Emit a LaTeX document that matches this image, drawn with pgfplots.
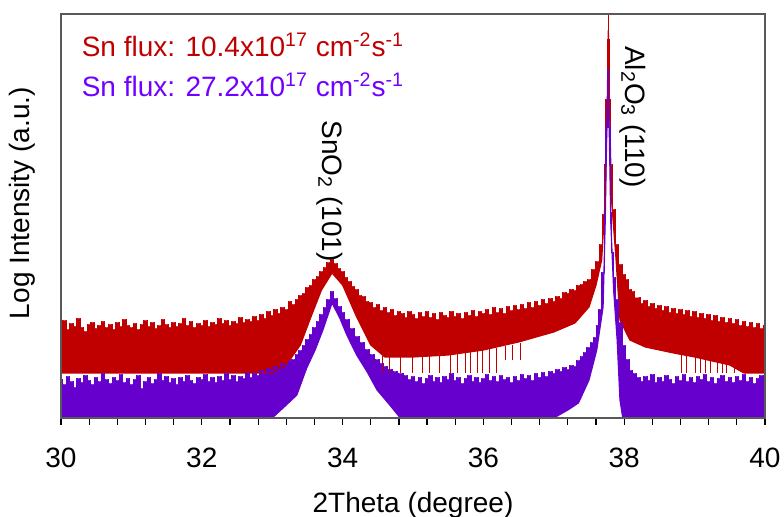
\documentclass[border=0pt]{standalone}
\usepackage{fontspec}
\setmainfont{Liberation Sans}
\usepackage{pgfplots}
\pgfplotsset{compat=1.18}
\usepgfplotslibrary{fillbetween}

\definecolor{cRed}{HTML}{C00000}
\definecolor{cPur}{HTML}{6600CC}
\definecolor{cPurTxt}{HTML}{7000FF}

% envelopes of the noisy scans (y in arbitrary log units, 0 = bottom of frame)
\pgfplotstableread{
x y
30.00 92
30.05 97
30.10 88
30.15 94
30.20 91
30.25 99
30.30 90
30.35 86
30.40 93
30.45 95
30.50 89
30.55 92
30.60 96
30.65 90
30.70 93
30.75 88
30.80 95
30.85 91
30.90 98
30.95 92
31.00 90
31.05 94
31.10 88
31.15 93
31.20 97
31.25 91
31.30 95
31.35 89
31.40 92
31.45 98
31.50 93
31.55 90
31.60 95
31.65 91
31.70 94
31.75 99
31.80 92
31.85 96
31.90 90
31.95 94
32.00 92
32.05 97
32.10 91
32.15 95
32.20 93
32.25 99
32.30 94
32.35 97
32.40 92
32.45 96
32.50 94
32.55 100
32.60 95
32.65 98
32.70 96
32.75 101
32.80 97
32.85 103
32.90 99
32.95 106
33.00 102
33.05 108
33.10 104
33.15 110
33.20 108
33.25 116
33.30 113
33.35 118
33.40 122
33.45 124
33.50 130
33.55 132
33.60 138
33.65 141
33.70 146
33.75 150
33.80 155
33.85 158
33.90 154
33.95 149
34.00 146
34.05 140
34.10 136
34.15 131
34.20 128
34.25 122
34.30 121
34.35 116
34.40 115
34.45 110
34.50 113
34.55 107
34.60 110
34.65 105
34.70 108
34.75 102
34.80 106
34.85 104
34.90 100
34.95 106
35.00 103
35.05 99
35.10 105
35.15 101
35.20 106
35.25 100
35.30 104
35.35 98
35.40 105
35.45 102
35.50 100
35.55 106
35.60 101
35.65 104
35.70 99
35.75 105
35.80 102
35.85 107
35.90 101
35.95 106
36.00 104
36.05 108
36.10 103
36.15 110
36.20 105
36.25 109
36.30 104
36.35 111
36.40 107
36.45 112
36.50 108
36.55 113
36.60 109
36.65 115
36.70 110
36.75 116
36.80 112
36.85 118
36.90 114
36.95 119
37.00 116
37.05 121
37.10 119
37.15 125
37.20 124
37.25 128
37.30 127
37.35 132
37.40 133
37.45 136
37.50 138
37.56 148
37.62 156
37.67 173
37.70 203
37.73 253
37.75 318
37.765 378
37.775 404
37.785 378
37.795 318
37.82 253
37.85 208
37.90 173
37.95 153
38.00 143
38.04 138
38.08 128
38.12 126
38.16 120
38.20 120
38.25 114
38.30 117
38.35 111
38.40 114
38.45 109
38.50 112
38.55 107
38.60 111
38.65 105
38.70 109
38.75 104
38.80 108
38.85 103
38.90 107
38.95 101
39.00 106
39.05 100
39.10 104
39.15 99
39.20 103
39.25 97
39.30 102
39.35 96
39.40 100
39.45 95
39.50 99
39.55 94
39.60 98
39.65 92
39.70 96
39.75 91
39.80 95
39.85 90
39.90 94
39.95 89
40.00 92
}\redtop

\pgfplotstableread{
x y
30.00 45
33.00 45
33.20 53
33.40 73
33.55 101
33.70 128
33.85 145
34.00 133
34.20 101
34.40 73
34.60 61
35.00 61
35.50 63
36.00 68
36.50 76
37.00 86
37.30 95
37.50 111
37.60 133
37.68 158
37.73 218
37.76 318
37.775 388
37.79 318
37.82 218
37.88 163
37.94 98
38.08 78
38.30 71
38.70 65
39.00 61
39.50 53
39.70 45
40.00 45
}\redbot

\pgfplotstableread{
x y
30.00 38
30.05 33
30.10 41
30.15 36
30.20 30
30.25 39
30.30 35
30.35 42
30.40 37
30.45 33
30.50 40
30.55 36
30.60 44
30.65 38
30.70 34
30.75 40
30.80 37
30.85 43
30.90 35
30.95 39
31.00 33
31.05 38
31.10 42
31.15 29
31.20 36
31.25 40
31.30 34
31.35 38
31.40 44
31.45 37
31.50 41
31.55 35
31.60 39
31.65 33
31.70 40
31.75 36
31.80 42
31.85 37
31.90 34
31.95 40
32.00 38
32.05 43
32.10 36
32.15 40
32.20 35
32.25 41
32.30 37
32.35 44
32.40 38
32.45 42
32.50 36
32.55 41
32.60 39
32.65 45
32.70 40
32.75 44
32.80 42
32.85 47
32.90 44
32.95 49
33.00 47
33.05 51
33.10 49
33.15 54
33.20 53
33.25 57
33.30 58
33.35 63
33.40 67
33.45 72
33.50 78
33.55 83
33.60 90
33.65 96
33.70 103
33.75 110
33.80 118
33.85 126
33.90 119
33.96 111
34.00 105
34.06 98
34.13 89
34.20 81
34.27 75
34.35 68
34.42 63
34.49 58
34.55 54
34.60 51
34.67 48
34.75 46
34.82 44
34.90 42
34.95 38
35.00 41
35.05 36
35.10 40
35.15 34
35.20 39
35.25 42
35.30 36
35.35 40
35.40 35
35.45 41
35.50 38
35.55 44
35.60 37
35.65 40
35.70 34
35.75 39
35.80 42
35.85 36
35.90 40
35.95 35
36.00 39
36.05 43
36.10 37
36.15 41
36.20 36
36.25 42
36.30 38
36.35 40
36.40 35
36.45 41
36.50 37
36.55 43
36.60 39
36.65 42
36.70 37
36.75 44
36.80 40
36.85 45
36.90 41
36.95 46
37.00 44
37.05 48
37.10 46
37.15 50
37.20 48
37.25 52
37.30 51
37.35 57
37.40 61
37.44 65
37.50 70
37.55 75
37.59 80
37.62 92
37.66 108
37.70 145
37.73 205
37.75 290
37.77 348
37.79 290
37.81 205
37.83 165
37.86 140
37.90 118
37.94 95
38.00 72
38.05 58
38.10 47
38.15 44
38.20 40
38.25 36
38.30 41
38.35 37
38.40 43
38.45 35
38.50 40
38.55 36
38.60 42
38.65 38
38.70 34
38.75 41
38.80 37
38.85 43
38.90 36
38.95 40
39.00 35
39.05 41
39.10 38
39.15 43
39.20 36
39.25 40
39.30 34
39.35 39
39.40 42
39.45 36
39.50 40
39.55 35
39.60 41
39.65 37
39.70 43
39.75 36
39.80 40
39.85 34
39.90 39
39.95 42
40.00 37
}\purtop

\pgfplotstableread{
x y
30.00 0
33.00 0
33.20 13
33.35 23
33.49 50
33.61 68
33.72 88
33.85 115
33.96 100
34.06 83
34.20 63
34.35 46
34.49 28
34.67 13
34.82 0
37.00 0
37.20 8
37.35 15
37.50 38
37.61 68
37.70 111
37.73 195
37.75 278
37.77 340
37.79 278
37.81 195
37.85 128
37.90 78
37.94 18
37.98 0
40.00 0
}\purbot

\begin{document}
\begin{tikzpicture}
\begin{axis}[
  at={(0,0)}, anchor=south west,
  scale only axis,
  width=352pt, height=202pt,
  xmin=30, xmax=40, ymin=0, ymax=404,
  xtick={30,32,...,40},
  minor x tick num=4,
  ytick=\empty,
  xtick pos=left,
  tick align=outside,
  xtick align=outside,
  major tick length=3.5pt,
  minor tick length=3.5pt,
  tick style={black, line width=0.6pt},
  axis line style={black!65, line width=0.6pt},
  axis on top,
  font=\fontsize{14}{16}\selectfont,
  /pgf/number format/assume math mode=true,
  xticklabel style={font=\fontsize{14}{16}\selectfont, yshift=-8pt},
  xlabel={2Theta (degree)},
  ylabel={Log Intensity (a.u.)},
  xlabel style={at={(axis description cs:0.5,0)}, anchor=center, yshift=-43.5pt},
  ylabel style={at={(axis description cs:0,0.532)}, anchor=center, yshift=19.5pt},
]
% Sn flux 10.4e17
\addplot[name path=rt, cRed, line width=0.5pt, const plot mark mid] table {\redtop};
\addplot[name path=rb, cRed, line width=0.6pt] table {\redbot};
\addplot[fill=cRed, draw=none] fill between[of=rt and rb];
\addplot[cRed, line width=0.5pt, unbounded coords=jump] coordinates {
(34.57,62) (34.57,45) (34.6,nan)
(34.67,62) (34.67,45) (34.7,nan)
(34.82,62) (34.82,45) (34.9,nan)
(34.99,62) (34.99,45) (35.0,nan)
(35.14,62) (35.14,45) (35.2,nan)
(35.24,62) (35.24,45) (35.3,nan)
(35.38,62) (35.38,45) (35.4,nan)
(35.53,64) (35.53,45) (35.6,nan)
(35.63,64) (35.63,45) (35.7,nan)
(35.74,65) (35.74,45) (35.8,nan)
(35.81,66) (35.81,45) (35.85,nan)
(35.91,67) (35.91,45) (35.95,nan)
(35.99,68) (35.99,45) (36.05,nan)
(36.09,69) (36.09,45) (36.15,nan)
(36.19,70) (36.19,45) (36.25,nan)
(36.31,72) (36.31,58) (36.35,nan)
(36.41,73) (36.41,58) (36.45,nan)
(36.52,75) (36.52,58) (36.55,nan)
(38.82,64) (38.82,45) (38.85,nan)
(38.89,63) (38.89,45) (38.95,nan)
(39.01,62) (39.01,45) (39.05,nan)
(39.08,61) (39.08,45) (39.1,nan)
(39.15,60) (39.15,45) (39.2,nan)
(39.22,59) (39.22,45) (39.25,nan)
(39.32,57) (39.32,45) (39.35,nan)
(39.39,56) (39.39,45) (39.42,nan)
(39.46,55) (39.46,45) (39.5,nan)
(39.57,54) (39.57,45)
};
% Sn flux 27.2e17
\addplot[name path=pt, cPur, line width=0.5pt, const plot mark mid] table {\purtop};
\addplot[name path=pb, cPur, line width=0.6pt] table {\purbot};
\addplot[fill=cPur, draw=none] fill between[of=pt and pb];

\node[anchor=base west, inner sep=0pt, text=cRed] at (axis cs:30.29,361)
  {Sn flux: 10.4x10\textsuperscript{17} cm\textsuperscript{-2}s\textsuperscript{-1}};
\node[anchor=base west, inner sep=0pt, text=cPurTxt] at (axis cs:30.29,321)
  {Sn flux: 27.2x10\textsuperscript{17} cm\textsuperscript{-2}s\textsuperscript{-1}};
\node[rotate=-90, inner sep=0pt] at (axis cs:33.82,227) {SnO\textsubscript{2} (101)};
\node[rotate=-90, inner sep=0pt] at (axis cs:38.125,301) {Al\textsubscript{2}O\textsubscript{3} (110)};
\end{axis}
\pgfresetboundingbox
\useasboundingbox (-30.5pt,-49.5pt) rectangle (361.5pt,209pt);
\end{tikzpicture}
\end{document}
